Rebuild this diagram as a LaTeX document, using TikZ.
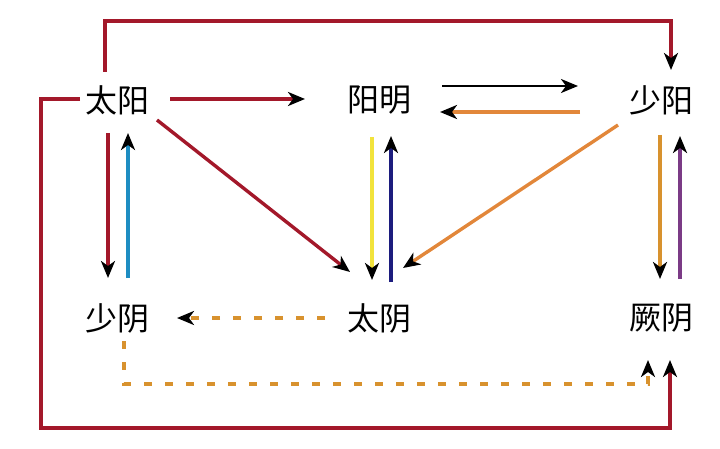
\documentclass[tikz,border=0pt]{standalone}
\usepackage{fontspec}
\newfontfamily\cjk{Noto Sans CJK SC}
\usetikzlibrary{
    positioning,
    arrows.meta,
    calc
}
\definecolor{jingred}{HTML}{A3182A}
\definecolor{jingcyan}{HTML}{1E8DC2}
\definecolor{jingyellow}{HTML}{F2E33C}
\definecolor{jingnavy}{HTML}{1C1C7E}
\definecolor{jingorange}{HTML}{E2873A}
\definecolor{jinggold}{HTML}{D8922E}
\definecolor{jingpurple}{HTML}{7B3B86}

\begin{document}
\begin{tikzpicture}[
    x=1pt, y=-1pt,
    % Estilos de Nodos
    phase/.style={font=\cjk\fontsize{32}{36}\selectfont, inner sep=0pt},
    % Estilos de Flechas
    arrow/.style={-{Stealth[black, length=17pt, width=14pt, inset=5pt]}, line width=3.4pt},
    red_arrow/.style={arrow, draw=jingred},
    dash_arrow/.style={arrow, draw=jinggold, dash pattern=on 8pt off 13pt}
]
\useasboundingbox (0,0) rectangle (720,449);

% --- FILA SUPERIOR ---
\node[phase] (taiyang)  at (117,100) {太阳};
\node[phase] (yangming) at (379,100) {阳明};
\node[phase] (shaoyang) at (661,100) {少阳};

% --- FILA INFERIOR ---
\node[phase] (shaoyin)  at (117,318) {少阴};
\node[phase] (taiyin)   at (379,318) {太阴};
\node[phase] (jueyin)   at (661,318) {厥阴};

% --- LAZOS EXTERIORES ---
\draw[red_arrow] ([shift={(-12,-28)}]taiyang.center) -- ++(0,-51)
    -| ([shift={(10,-30)}]shaoyang.center);
\draw[red_arrow] ([shift={(-37,-1)}]taiyang.center) -| ++(-39,329)
    -| ([shift={(9,42)}]jueyin.center);

% --- TAIYANG ---
\draw[red_arrow] ([shift={(53,-1)}]taiyang.center) -- ([shift={(-74,-1)}]yangming.center);
\draw[red_arrow] ([shift={(40,20)}]taiyang.center) -- ([shift={(-29,-46)}]taiyin.center);
\draw[red_arrow] ([shift={(-9,33)}]taiyang.center) -- ([shift={(-9,-40)}]shaoyin.center);
\draw[arrow, draw=jingcyan] ([shift={(11,-40)}]shaoyin.center) -- ([shift={(11,33)}]taiyang.center);

% --- YANGMING / SHAOYANG ---
\draw[arrow, draw=black, line width=2.4pt] ([shift={(63,-14)}]yangming.center) -- ([shift={(-83,-14)}]shaoyang.center);
\draw[arrow, draw=jingorange] ([shift={(-81,12)}]shaoyang.center) -- ([shift={(61,12)}]yangming.center);
\draw[arrow, draw=jingyellow] ([shift={(-7,37)}]yangming.center) -- ([shift={(-7,-38)}]taiyin.center);
\draw[arrow, draw=jingnavy] ([shift={(12,-36)}]taiyin.center) -- ([shift={(12,36)}]yangming.center);
\draw[arrow, draw=jingorange] ([shift={(-43,25)}]shaoyang.center) -- ([shift={(24,-50)}]taiyin.center);
\draw[arrow, draw=jinggold] ([shift={(-1,35)}]shaoyang.center) -- ([shift={(-1,-39)}]jueyin.center);
\draw[arrow, draw=jingpurple] ([shift={(19,-39)}]jueyin.center) -- ([shift={(19,36)}]shaoyang.center);

% --- FLECHAS PUNTEADAS ---
\draw[dash_arrow] ([shift={(-54,0)}]taiyin.center) -- ([shift={(60,0)}]shaoyin.center);
\draw[dash_arrow] ([shift={(7,23)}]shaoyin.center) |- ++(524,43)
    -- ([shift={(-13,42)}]jueyin.center);

\end{tikzpicture}
\end{document}
